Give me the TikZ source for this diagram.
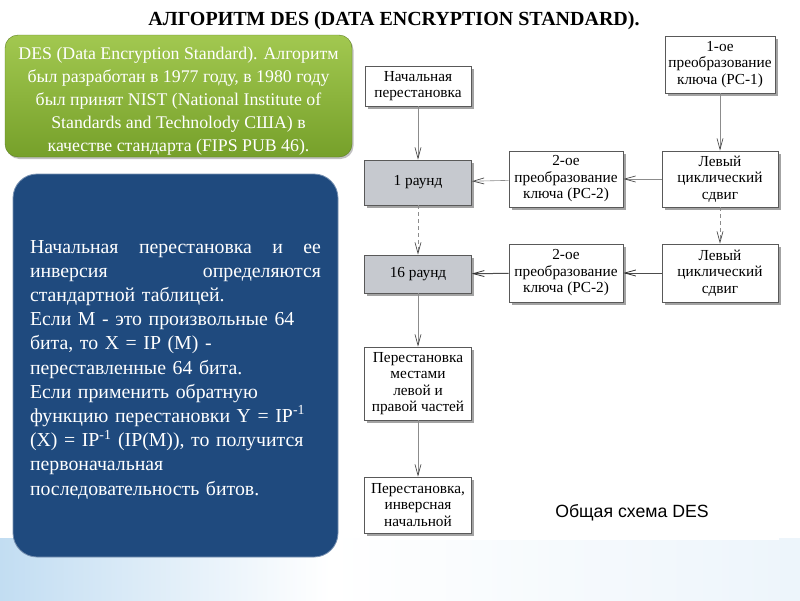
\documentclass[tikz,border=0pt]{standalone}
\usepackage{fontspec}
\setmainfont{Liberation Serif}
\newfontfamily\capfont{Liberation Sans}
\usetikzlibrary{arrows.meta,shadows,calc}
\definecolor{bluebg}{HTML}{1F4A7E}
\definecolor{greentop}{HTML}{A2C850}
\definecolor{greenbot}{HTML}{76A02A}
\definecolor{roundfill}{HTML}{C6C9CF}
\definecolor{skyblue}{HTML}{C2DDF2}
\tikzset{
  dbox/.style={draw=black!65, line width=0.6pt, fill=white, align=center,
    inner sep=1pt, font=\fontsize{15.3}{16.5}\selectfont,
    drop shadow={shadow xshift=2.5pt, shadow yshift=-2.5pt, fill=black!45, opacity=0.8}},
  rbox/.style={dbox, fill=roundfill},
  arr/.style={draw=black!45, line width=0.6pt,
    -{Straight Barb[length=11pt,width=6pt,line width=0.7pt,color=black!70]}},
  arrd/.style={arr, dash pattern=on 4pt off 3pt},
  arrh/.style={draw=black!70, line width=1pt,
    -{Straight Barb[length=11pt,width=6pt,line width=0.8pt,color=black!80]}},
}
\begin{document}
\begin{tikzpicture}[x=1pt,y=-1pt]
\useasboundingbox (0,0) rectangle (800,600);
\fill[white] (0,0) rectangle (800,600);
\shade[left color=skyblue, right color=white] (0,538) rectangle (330,600);
\shade[left color=white, right color=skyblue!30] (330,538) rectangle (800,600);

% title
\node[font=\bfseries\fontsize{20}{22}\selectfont] (title) at (394,21) {АЛГОРИТМ DES (DATA ENCRYPTION STANDARD).};

% green box
\node[rounded corners=13pt, top color=greentop, bottom color=greenbot, draw=greenbot!80!black, line width=0.4pt,
  minimum width=347pt, minimum height=122pt,
  drop shadow={shadow xshift=1.5pt, shadow yshift=-2pt, fill=black!40, opacity=0.6}] (green) at (178.5,96) {};
\node[align=center, text=white, font=\fontsize{17.8}{23}\selectfont] (greentext) at ($(green.center)+(0,5)$)
  {DES (Data Encryption Standard). Алгоритм\\
   был разработан в 1977 году, в 1980 году\\
   был принят NIST (National Institute of\\
   Standards and Technolody США) в\\
   качестве стандарта (FIPS PUB 46).};

% blue box
\node[rounded corners=24pt, fill=bluebg, draw=bluebg!60!white, line width=0.8pt,
  minimum width=325pt, minimum height=383pt] (blue) at (175.5,365.5) {};
\node[text width=291pt, align=left, text=white, font=\fontsize{19.8}{24.2}\selectfont] (bluetext) at ($(blue.center)+(0,4)$)
  {Начальная\hfill перестановка\hfill и\hfill ее\\
   инверсия\hfill определяются\\
   стандартной таблицей.\\
   Если M - это произвольные 64\\
   бита, то X = IP (M) -\\
   переставленные 64 бита.\\
   Если применить обратную\\
   функцию перестановки Y = IP\textsuperscript{-1}\\
   (X) = IP\textsuperscript{-1} (IP(M)), то получится\\
   первоначальная\\
   последовательность битов.};

% diagram panel
\fill[white] (361,34) rectangle (779,540);

% nodes
\node[dbox, minimum width=106pt, minimum height=40pt] (ip) at (418,86) {Начальная\\перестановка};
\node[rbox, minimum width=107pt, minimum height=45pt] (r1) at (418,182.5) {1 раунд};
\node[dbox, minimum width=114pt, minimum height=56pt] (k2a) at (566,179) {2-ое\\преобразование\\ключа (PC-2)};
\node[dbox, minimum width=116pt, minimum height=56pt] (ls1) at (720,179) {Левый\\циклический\\сдвиг};
\node[dbox, minimum width=110pt, minimum height=57pt] (k1) at (720,64.5) {1-ое\\преобразование\\ключа (PC-1)};
\node[rbox, minimum width=107pt, minimum height=38pt] (r16) at (418,274) {16 раунд};
\node[dbox, minimum width=114pt, minimum height=58pt] (k2b) at (566,273) {2-ое\\преобразование\\ключа (PC-2)};
\node[dbox, minimum width=116pt, minimum height=58pt] (ls2) at (720,273) {Левый\\циклический\\сдвиг};
\node[dbox, minimum width=107pt, minimum height=73pt] (sw) at (418,383.5) {Перестановка\\местами\\левой и\\правой частей};
\node[dbox, minimum width=107pt, minimum height=56pt] (inv) at (418,505) {Перестановка,\\инверсная\\начальной};
\node[font=\capfont\fontsize{17.7}{20}\selectfont] (cap) at (632,513) {Общая схема DES};

% connectors
\draw[arr] (ip) -- (r1);
\draw[arrd] (r1) -- (r16);
\draw[arr] (r16) -- (sw);
\draw[arr] (sw) -- (inv);
\draw[arr] (k1) -- (ls1);
\draw[arrd] (ls1) -- (ls2);
\draw[arr] (ls1) -- (k2a);
\draw[arr] (k2a) -- (r1);
\draw[arrh] (ls2) -- (k2b);
\draw[arrh] (k2b) -- (r16);
\end{tikzpicture}
\end{document}
